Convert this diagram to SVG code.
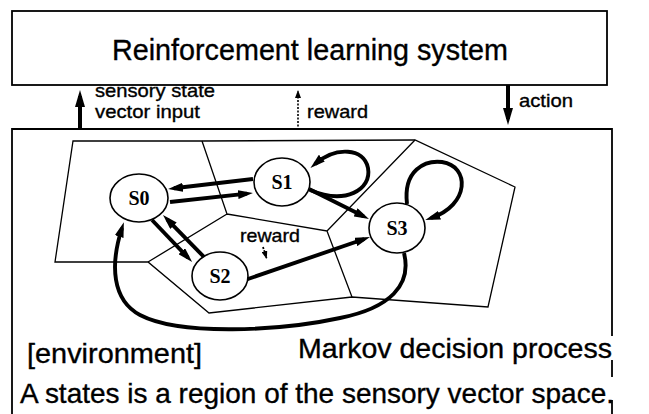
<svg xmlns="http://www.w3.org/2000/svg" width="649" height="414" viewBox="0 0 649 414">
<defs>
<style>
.box{fill:none;stroke:#000;stroke-width:1.8}
.poly{fill:none;stroke:#000;stroke-width:1.3;stroke-linejoin:miter}
.node ellipse{fill:#fff;stroke:#000;stroke-width:1.6}
.node text{font-family:"Liberation Serif","Times New Roman",serif;font-weight:bold;font-size:20px;text-anchor:middle}
.edge{fill:none;stroke:#000;stroke-width:3.9}
.sans{font-family:"Liberation Sans",Arial,sans-serif;fill:#000;stroke:#000;stroke-width:0.35}
</style>
<marker id="ah" markerUnits="userSpaceOnUse" markerWidth="15" markerHeight="9" refX="9" refY="4.5" orient="auto">
<path d="M0,0 L15,4.5 L0,9 z" fill="#000"/>
</marker>
<marker id="big" markerUnits="userSpaceOnUse" markerWidth="17" markerHeight="10" refX="11" refY="5" orient="auto">
<path d="M0,0 L17,5 L0,10 z" fill="#000"/>
</marker>
<marker id="small" markerUnits="userSpaceOnUse" markerWidth="8" markerHeight="6" refX="7" refY="3" orient="auto">
<path d="M0,0 L8,3 L0,6 z" fill="#000"/>
</marker>
</defs>
<rect width="649" height="414" fill="#fff"/>

<g id="rl-system">
<rect class="box" x="12" y="11" width="595" height="74"/>
<text class="sans" x="310" y="60" font-size="29" text-anchor="middle" textLength="396" lengthAdjust="spacingAndGlyphs">Reinforcement learning system</text>
</g>

<g id="environment">
<path class="box" d="M12,414 V129 H612 V336 M612,360 V377 M612,400 V414"/>
<text class="sans" x="27" y="363" font-size="28" textLength="175" lengthAdjust="spacingAndGlyphs">[environment]</text>
<text class="sans" x="298" y="358" font-size="28" textLength="314" lengthAdjust="spacingAndGlyphs">Markov decision process</text>
<text class="sans" x="20" y="403" font-size="28" textLength="594" lengthAdjust="spacingAndGlyphs">A states is a region of the sensory vector space.</text>
</g>

<g id="regions">
<path class="poly" d="M73,141 L202,141 L415,140 L515,187 L488,307 L352,297 L209,313 L148,262 L55,262 Z"/>
<path class="poly" d="M202,141 L227,214 L148,262 M227,214 L327,231 L415,140 M327,231 L352,297"/>
</g>

<g id="connectors">
<path d="M80,130 V96" stroke="#000" stroke-width="4" fill="none" marker-end="url(#big)"/>
<path d="M298,130 V91" stroke="#000" stroke-width="1.6" stroke-dasharray="2,1.5" fill="none" marker-end="url(#small)"/>
<path d="M508,85 V119" stroke="#000" stroke-width="4" fill="none" marker-end="url(#big)"/>
<path class="edge" d="M253,179 L174,188.3" marker-end="url(#ah)"/>
<path class="edge" d="M170,202 L247,193.6" marker-end="url(#ah)"/>
<path class="edge" d="M152,220 L188,257.7" marker-end="url(#ah)"/>
<path class="edge" d="M205,258 L167.2,219.3" marker-end="url(#ah)"/>
<path class="edge" d="M310,190 C345,205 372,190 368,168 C364,148 336,146 315,164" marker-end="url(#ah)"/>
<path class="edge" d="M309,189 L363.6,216.3" marker-end="url(#ah)"/>
<path class="edge" d="M245,280 L364.3,239" marker-end="url(#ah)"/>
<path class="edge" d="M407,204 C403,170 425,160 442,162 C470,166 470,205 431,218" marker-end="url(#ah)"/>
<path class="edge" d="M404,253 C412,285 390,308 340,318 C280,331 180,336 140,315 C112,300 110,265 122,228" marker-end="url(#ah)"/>
<path d="M263,247 L266.5,258" stroke="#000" stroke-width="1.8" stroke-dasharray="2,1.5" fill="none" marker-end="url(#small)"/>
</g>

<g id="labels">
<text class="sans" x="95" y="97" font-size="18.5" textLength="120" lengthAdjust="spacingAndGlyphs">sensory state</text>
<text class="sans" x="95" y="118" font-size="18.5" textLength="105" lengthAdjust="spacingAndGlyphs">vector input</text>
<text class="sans" x="307" y="118" font-size="18.5" textLength="61" lengthAdjust="spacingAndGlyphs">reward</text>
<text class="sans" x="519" y="107" font-size="18.5" textLength="54" lengthAdjust="spacingAndGlyphs">action</text>
<text class="sans" x="240" y="242" font-size="18.5" textLength="60" lengthAdjust="spacingAndGlyphs">reward</text>
</g>

<g id="S0" class="node"><ellipse cx="139" cy="198" rx="29" ry="24"/><text x="139" y="205">S0</text></g>
<g id="S1" class="node"><ellipse cx="282" cy="182" rx="28" ry="24"/><text x="282" y="189">S1</text></g>
<g id="S2" class="node"><ellipse cx="220" cy="276" rx="28" ry="24"/><text x="220" y="283">S2</text></g>
<g id="S3" class="node"><ellipse cx="397" cy="228" rx="28" ry="25"/><text x="397" y="235">S3</text></g>
</svg>
